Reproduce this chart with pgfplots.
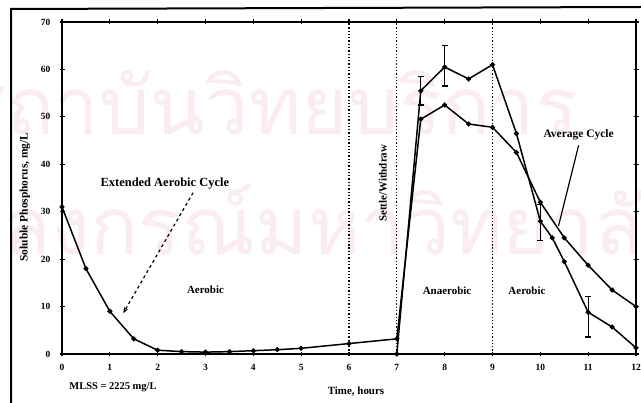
\documentclass[border=0pt]{standalone}
\usepackage{pgfplots}
\pgfplotsset{compat=1.18}
\usetikzlibrary{arrows.meta}
\usepackage{fontspec}
\setmainfont{Liberation Serif}
\newfontfamily\thaifont[Script=Thai]{Loma}
\definecolor{wm}{RGB}{251,236,241}
\begin{document}
\begin{tikzpicture}
\useasboundingbox (0bp,0bp) rectangle (641bp,403bp);
\begin{scope}
\clip (0bp,0bp) rectangle (641bp,403bp);
\node[anchor=base east, font=\thaifont\fontsize{80}{80}\selectfont, text=wm, inner sep=0pt] at (578bp,268bp) {สถาบันวิทยบริการ};
\node[anchor=base east, font=\thaifont\fontsize{80}{80}\selectfont, text=wm, inner sep=0pt] at (690bp,148bp) {จุฬาลงกรณ์มหาวิทยาลัย};
\end{scope}
\draw[line width=2bp] (11bp,0bp) -- (11bp,394bp) -- (641bp,396bp);
\begin{axis}[
  at={(62bp,49bp)}, anchor=south west, scale only axis,
  width=574bp, height=332bp,
  xmin=0, xmax=12, ymin=0, ymax=70,
  xtick={0,1,...,12}, ytick={0,10,...,70},
  tick align=center, major tick length=5bp,
  tick style={line width=1.2pt, black},
  axis line style={line width=1.6pt},
  ticklabel style={font=\bfseries\fontsize{9.5}{10}\selectfont, inner sep=1pt},
  /pgf/number format/assume math mode=true,
  xticklabel style={yshift=-7bp}, yticklabel style={xshift=-8bp},
  clip=false,
]
\draw[dotted, line width=1.3pt] (axis cs:6,0) -- (axis cs:6,70);
\draw[dotted, line width=1.3pt] (axis cs:7,0) -- (axis cs:7,70);
\draw[dotted, line width=1.3pt] (axis cs:9,0) -- (axis cs:9,70);
% Extended aerobic cycle continuing into the lower curve
\addplot[black, line width=1.5pt, mark=*, mark size=1.7pt] coordinates {
 (0,31) (0.5,18) (1,9) (1.5,3.2) (2,0.8) (2.5,0.5) (3,0.4) (3.5,0.5) (4,0.7)
 (4.5,0.9) (5,1.2) (6,2.2) (7,3.2) (7.5,49.5) (8,52.5) (8.5,48.5) (9,47.8)
 (9.5,42.5) (10,32) (10.5,24.5) (11,18.7) (11.5,13.5) (12,10)
};
% Average cycle (upper)
\addplot[black, line width=1.5pt, mark=*, mark size=1.7pt] coordinates {
 (7,0) (7.5,55.5) (8,60.5) (8.5,58) (9,61) (9.5,46.5) (10,28) (10.25,24.5)
 (10.5,19.5) (11,8.8) (11.5,5.7) (12,1.3)
};
\addplot[black, only marks, mark=*, mark size=1.7pt,
  error bars/.cd, y dir=both, y explicit,
  error bar style={line width=1.2pt},
  error mark options={rotate=90, mark size=3pt, line width=1.2pt}] coordinates {
 (7.5,55.5) += (0,3) -= (0,3)
 (8,60.5) += (0,4.5) -= (0,4)
 (10,28) += (0,3.5) -= (0,4)
 (11,8.8) += (0,3.4) -= (0,5.2)
};
\node[font=\bfseries\fontsize{12.5}{14}\selectfont] at (axis cs:2.15,36) {Extended Aerobic Cycle};
\draw[-{Stealth[length=6bp]}, line width=1.2pt, dashed] (axis cs:2.74,34) -- (axis cs:1.28,8.6);
\node[font=\bfseries\fontsize{11}{12}\selectfont] at (axis cs:3,13.5) {Aerobic};
\node[font=\bfseries\fontsize{11}{12}\selectfont] at (axis cs:8.05,13.3) {Anaerobic};
\node[font=\bfseries\fontsize{11}{12}\selectfont] at (axis cs:9.72,13.3) {Aerobic};
\node[font=\bfseries\fontsize{11}{12}\selectfont, rotate=90] at (axis cs:6.71,36) {Settle/Withdraw};
\node[font=\bfseries\fontsize{11.5}{12}\selectfont] at (axis cs:10.8,46.3) {Average Cycle};
\draw[line width=1.2pt] (axis cs:10.8,44) -- (axis cs:10.38,27);
\end{axis}
\node[font=\bfseries\fontsize{11.5}{12}\selectfont, rotate=90, inner sep=1pt] at (25bp,206bp) {Soluble Phosphorus, mg/L};
\node[font=\bfseries\fontsize{11}{12}\selectfont] at (356bp,11bp) {Time, hours};
\node[font=\bfseries\fontsize{10.5}{12}\selectfont] at (113bp,16bp) {MLSS = 2225 mg/L};
\end{tikzpicture}
\end{document}
